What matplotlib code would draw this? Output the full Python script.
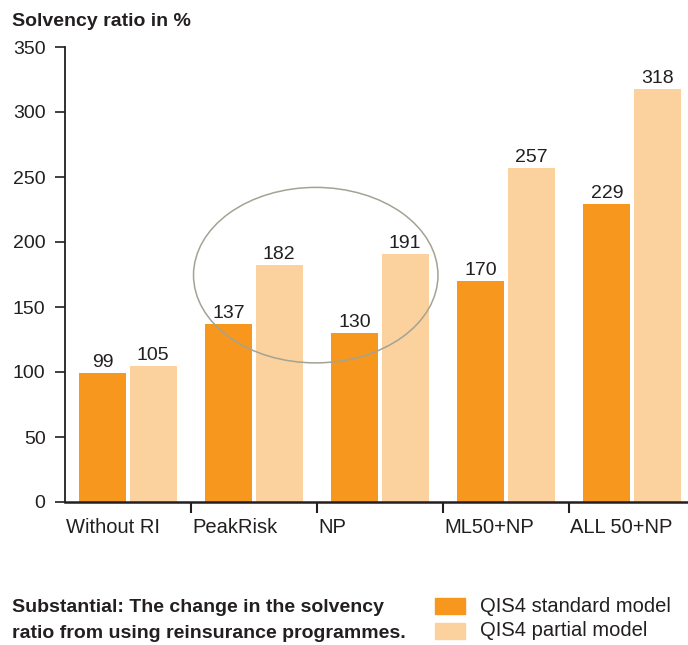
import matplotlib.pyplot as plt
from matplotlib.patches import Ellipse, Rectangle
import numpy as np

categories = ['Without RI', 'PeakRisk', 'NP', 'ML50+NP', 'ALL 50+NP']
standard = [99, 137, 130, 170, 229]
partial = [105, 182, 191, 257, 318]
yticks = [0, 50, 100, 150, 200, 250, 300, 350]

orange = '#F7971E'
light = '#FBD19E'
dark = '#231F20'

plt.rcParams['font.family'] = ['Liberation Sans', 'DejaVu Sans']

fig = plt.figure(figsize=(6.88, 6.45), dpi=100)
ax = fig.add_axes([65 / 688, 1 - 502 / 645, 1 - 65 / 688, (502 - 47) / 645])

x = np.arange(len(categories))
w = 0.37
b1 = ax.bar(x + 0.30, standard, w, color=orange, zorder=2)
b2 = ax.bar(x + 0.70, partial, w, color=light, zorder=2)

for rect, v in zip(list(b1) + list(b2), standard + partial):
    ax.text(rect.get_x() + rect.get_width() / 2, v + 1.5, str(v),
            ha='center', va='bottom', fontsize=14, color=dark, zorder=3)

ax.add_patch(Ellipse((1.99, 174.5), 1.94, 135, fill=False,
                     edgecolor='#A3A395', linewidth=1.1, zorder=4))

ax.set_xlim(0, (688 - 65) / 126)
ax.set_ylim(0, 350)
ax.set_yticks(yticks)
ax.set_yticklabels([str(t) for t in yticks], fontsize=14, color=dark)
ax.set_xticks(np.arange(1, len(categories)))
ax.set_xticklabels([])
for i, c in enumerate(categories):
    ax.text(i + 0.01, -12, c, ha='left', va='top', fontsize=14.5,
            color=dark, transform=ax.transData)

for s in ['top', 'right']:
    ax.spines[s].set_visible(False)
ax.spines['left'].set_color(dark)
ax.spines['bottom'].set_color(dark)
ax.spines['left'].set_linewidth(1.3)
ax.spines['bottom'].set_linewidth(1.8)
ax.tick_params(axis='y', direction='out', length=7, width=1.2, color=dark, pad=7)
ax.tick_params(axis='x', direction='out', length=8, width=1.5, color=dark)

fig.text(12 / 688, 1 - 22 / 645, 'Solvency ratio in %', fontsize=14,
         fontweight='bold', ha='left', va='center', color=dark)

fig.text(12 / 688, 1 - 607 / 645, 'Substantial: The change in the solvency',
         fontsize=14, fontweight='bold', ha='left', va='center', color=dark)
fig.text(12 / 688, 1 - 633 / 645, 'ratio from using reinsurance programmes.',
         fontsize=14, fontweight='bold', ha='left', va='center', color=dark)

for ypix, col, lab in [(606, orange, 'QIS4 standard model'),
                       (631, light, 'QIS4 partial model')]:
    fig.patches.append(Rectangle((435 / 688, 1 - (ypix + 8) / 645), 30 / 688, 16 / 645,
                                 transform=fig.transFigure, color=col))
    fig.text(480 / 688, 1 - ypix / 645, lab, fontsize=14.5, ha='left', va='center',
             color=dark)

fig.savefig('out.png', dpi=100)
